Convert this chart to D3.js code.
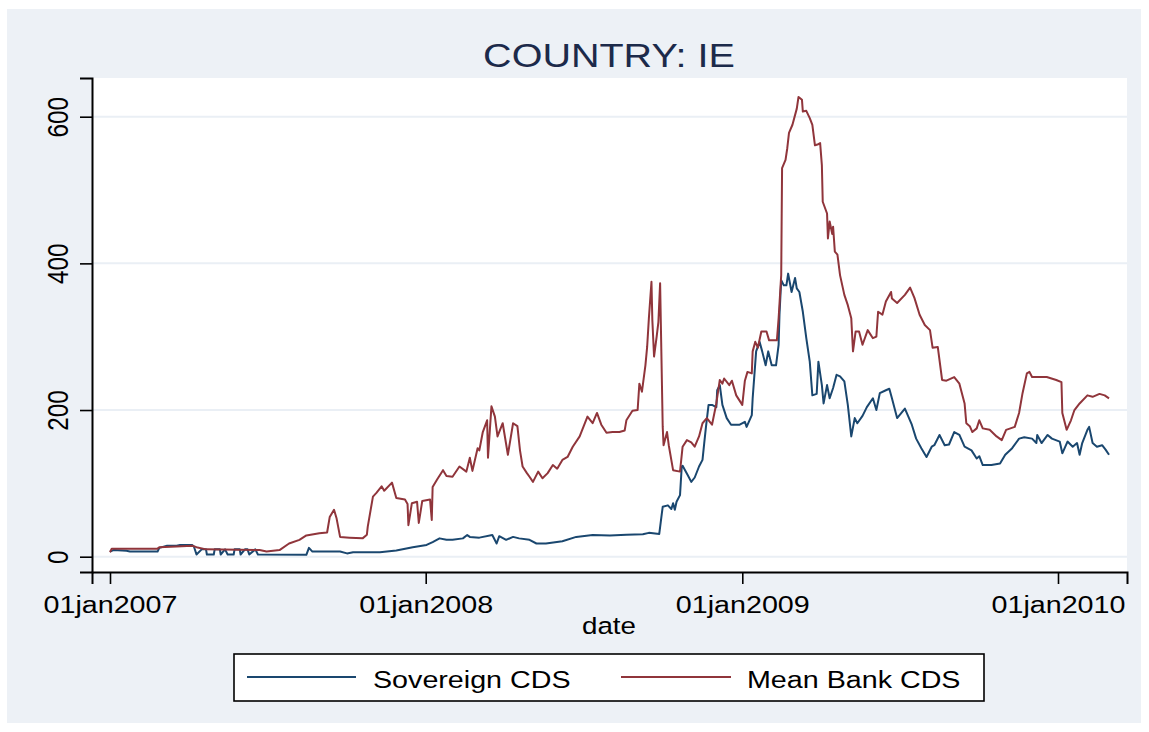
<!DOCTYPE html>
<html>
<head>
<meta charset="utf-8">
<script src="https://cdn.jsdelivr.net/npm/d3@7"></script>
<style>
  html, body { margin: 0; padding: 0; background: #ffffff; }
  svg { display: block; }
</style>
</head>
<body>
<div id="chart"></div>
<script>
// ---------------- DATA ----------------
const title = "COUNTRY: IE";
const xAxisTitle = "date";
const seriesNames = ["Sovereign CDS", "Mean Bank CDS"];
const xTickDates = ["2007-01-01", "2008-01-01", "2009-01-01", "2010-01-01"];
const xTickLabels = ["01jan2007", "01jan2008", "01jan2009", "01jan2010"];
const yTicks = [0, 200, 400, 600];

const sovDates = [
  "2007-01-01","2007-01-05","2007-01-20","2007-01-24","2007-02-25","2007-02-27","2007-03-08","2007-03-19","2007-03-23","2007-04-06",
  "2007-04-08","2007-04-11","2007-04-17","2007-04-22","2007-04-23","2007-05-01","2007-05-02","2007-05-08","2007-05-09","2007-05-14",
  "2007-05-17","2007-05-24","2007-05-25","2007-05-31","2007-06-01","2007-06-06","2007-06-09","2007-06-11","2007-06-18","2007-06-21",
  "2007-08-16","2007-08-19","2007-08-23","2007-09-24","2007-10-02","2007-10-09","2007-11-09","2007-11-28","2007-12-17","2008-01-02",
  "2008-01-09","2008-01-17","2008-01-25","2008-02-01","2008-02-13","2008-02-18","2008-02-21","2008-03-03","2008-03-18","2008-03-23",
  "2008-03-26","2008-04-03","2008-04-11","2008-04-18","2008-04-30","2008-05-08","2008-05-19","2008-06-07","2008-06-23","2008-07-12",
  "2008-08-01","2008-08-20","2008-09-08","2008-09-15","2008-09-27","2008-09-30","2008-10-01","2008-10-07","2008-10-11","2008-10-13",
  "2008-10-15","2008-10-17","2008-10-21","2008-10-23","2008-10-24","2008-10-30","2008-11-03","2008-11-07","2008-11-12","2008-11-16",
  "2008-11-18","2008-11-20","2008-11-23","2008-11-27","2008-12-02","2008-12-03","2008-12-06","2008-12-09","2008-12-14","2008-12-19",
  "2008-12-29","2009-01-04","2009-01-06","2009-01-12","2009-01-13","2009-01-15","2009-01-17","2009-01-21","2009-01-24","2009-01-28",
  "2009-01-31","2009-02-04","2009-02-09","2009-02-12","2009-02-13","2009-02-15","2009-02-18","2009-02-21","2009-02-23","2009-02-27",
  "2009-03-03","2009-03-05","2009-03-08","2009-03-12","2009-03-16","2009-03-20","2009-03-23","2009-03-28","2009-03-30","2009-04-03",
  "2009-04-05","2009-04-09","2009-04-12","2009-04-16","2009-04-20","2009-04-24","2009-04-29","2009-05-03","2009-05-07","2009-05-11",
  "2009-05-14","2009-05-20","2009-05-25","2009-06-01","2009-06-05","2009-06-09","2009-06-16","2009-06-20","2009-06-23","2009-06-29",
  "2009-07-08","2009-07-16","2009-07-21","2009-07-27","2009-08-02","2009-08-08","2009-08-11","2009-08-17","2009-08-23","2009-08-28",
  "2009-09-03","2009-09-09","2009-09-15","2009-09-23","2009-09-29","2009-10-02","2009-10-06","2009-10-16","2009-10-26","2009-11-01",
  "2009-11-09","2009-11-17","2009-11-23","2009-12-02","2009-12-07","2009-12-08","2009-12-13","2009-12-20","2009-12-25","2010-01-03",
  "2010-01-06","2010-01-12","2010-01-18","2010-01-23","2010-01-26","2010-01-29","2010-02-04","2010-02-06","2010-02-10","2010-02-15",
  "2010-02-21","2010-02-25","2010-03-01"
];
const sovValues = [
  7, 9, 8, 7, 7, 12, 15, 15, 16, 16,
  14, 3, 10, 10, 3, 3, 10, 10, 3, 10,
  3, 3, 10, 10, 3, 10, 10, 3, 10, 3,
  2.5, 12, 7, 7, 4.5, 6, 6, 8.5, 13, 16,
  20, 25, 23, 23, 25, 29.5, 27, 26, 29.5, 18,
  28, 23, 27, 25, 23, 18, 18, 21, 27, 29.5,
  29, 30, 30.5, 32.5, 31, 59, 68, 70, 65, 73,
  64, 75, 84, 123, 124, 111, 102, 108, 123, 132,
  155, 177, 207, 207, 204, 227, 234, 207, 189, 180,
  180, 184, 177, 193, 216, 248, 280, 293, 280, 261,
  280, 261, 261, 289, 330, 377, 370, 370, 386, 361,
  380, 366, 361, 334, 298, 266, 220, 222, 266, 234,
  209, 234, 216, 230, 248, 246, 239, 207, 164, 189,
  182, 192, 204, 216, 200, 223, 227, 229, 216, 189,
  202, 180, 161, 148, 136, 150, 152, 166, 152, 153,
  170, 166, 150, 145, 134, 137, 125, 125, 127, 139,
  148, 161, 163, 161, 155, 166, 155, 166, 161, 157,
  141, 157, 150, 155, 139, 155, 173, 177, 155, 150,
  152, 146, 139
];

const bankDates = [
  "2007-01-01","2007-01-03","2007-02-25","2007-02-27","2007-03-19","2007-04-06","2007-04-11","2007-04-22","2007-06-23","2007-07-01",
  "2007-07-16","2007-07-27","2007-08-08","2007-08-16","2007-08-31","2007-09-09","2007-09-12","2007-09-17","2007-09-20","2007-09-24",
  "2007-10-05","2007-10-20","2007-10-25","2007-10-26","2007-11-01","2007-11-05","2007-11-11","2007-11-14","2007-11-23","2007-11-28",
  "2007-12-08","2007-12-11","2007-12-12","2007-12-16","2007-12-22","2007-12-24","2007-12-28","2008-01-06","2008-01-08","2008-01-09",
  "2008-01-14","2008-01-21","2008-01-25","2008-02-01","2008-02-09","2008-02-17","2008-02-21","2008-02-24","2008-03-01","2008-03-03",
  "2008-03-07","2008-03-12","2008-03-13","2008-03-17","2008-03-21","2008-03-24","2008-03-30","2008-04-05","2008-04-11","2008-04-16",
  "2008-04-19","2008-04-22","2008-04-27","2008-04-30","2008-05-04","2008-05-10","2008-05-15","2008-05-21","2008-05-27","2008-06-01",
  "2008-06-07","2008-06-13","2008-06-19","2008-06-27","2008-07-06","2008-07-12","2008-07-17","2008-07-22","2008-07-28","2008-08-04",
  "2008-08-12","2008-08-18","2008-08-20","2008-08-27","2008-09-02","2008-09-04","2008-09-07","2008-09-11","2008-09-13","2008-09-15",
  "2008-09-18","2008-09-19","2008-09-21","2008-09-24","2008-09-26","2008-09-28","2008-10-01","2008-10-02","2008-10-06","2008-10-08",
  "2008-10-13","2008-10-21","2008-10-24","2008-10-29","2008-11-03","2008-11-07","2008-11-12","2008-11-16","2008-11-21","2008-11-27",
  "2008-12-02","2008-12-06","2008-12-09","2008-12-11","2008-12-17","2008-12-20","2008-12-25","2009-01-01","2009-01-04","2009-01-07",
  "2009-01-12","2009-01-13","2009-01-16","2009-01-19","2009-01-23","2009-01-29","2009-02-01","2009-02-10","2009-02-12","2009-02-15",
  "2009-02-16","2009-02-20","2009-02-22","2009-02-24","2009-02-28","2009-03-05","2009-03-07","2009-03-11","2009-03-12","2009-03-16",
  "2009-03-20","2009-03-23","2009-03-26","2009-03-29","2009-04-01","2009-04-03","2009-04-04","2009-04-09","2009-04-10","2009-04-12",
  "2009-04-15","2009-04-16","2009-04-18","2009-04-21","2009-04-24","2009-04-29","2009-05-03","2009-05-07","2009-05-09","2009-05-12",
  "2009-05-16","2009-05-20","2009-05-26","2009-06-01","2009-06-05","2009-06-07","2009-06-12","2009-06-16","2009-06-22","2009-06-23",
  "2009-06-29","2009-07-08","2009-07-14","2009-07-19","2009-07-25","2009-07-31","2009-08-06","2009-08-09","2009-08-15","2009-08-20",
  "2009-08-25","2009-09-03","2009-09-09","2009-09-15","2009-09-17","2009-09-21","2009-09-24","2009-09-29","2009-10-02","2009-10-06",
  "2009-10-14","2009-10-22","2009-10-28","2009-11-02","2009-11-12","2009-11-17","2009-11-21","2009-11-26","2009-11-29","2009-12-02",
  "2009-12-19","2009-12-30","2010-01-05","2010-01-06","2010-01-11","2010-01-16","2010-01-20","2010-01-26","2010-02-04","2010-02-10",
  "2010-02-18","2010-02-24","2010-03-01"
];
const bankValues = [
  6, 11, 11, 13, 14, 15, 13, 10, 9, 7,
  9, 18, 23, 29, 32, 33, 54, 64, 52, 27,
  26, 25, 30, 41, 82, 87, 96, 90, 101, 80,
  78, 72, 43, 73, 75, 46, 76, 78, 50, 95,
  105, 118, 110, 109, 123, 116, 135, 117, 148, 145,
  170, 186, 135, 205, 191, 164, 182, 139, 182, 178,
  145, 123, 114, 109, 102, 116, 107, 114, 125, 120,
  132, 136, 150, 164, 191, 182, 196, 180, 169, 170,
  170, 172, 186, 199, 200, 236, 225, 261, 286, 325,
  375, 323, 273, 300, 320, 373, 177, 152, 170, 152,
  118, 116, 150, 159, 156, 150, 164, 182, 189, 180,
  209, 241, 236, 243, 234, 240, 220, 207, 240, 252,
  250, 280, 293, 285, 307, 307, 295, 295, 325, 384,
  530, 541, 557, 578, 589, 611, 627, 623, 607, 608,
  598, 589, 561, 562, 564, 534, 484, 468, 434, 457,
  440, 450, 416, 412, 384, 357, 343, 325, 280, 307,
  307, 289, 309, 298, 300, 334, 330, 348, 361, 352,
  346, 357, 367, 353, 330, 316, 309, 285, 286, 241,
  240, 245, 236, 209, 182, 178, 170, 175, 186, 175,
  173, 164, 159, 173, 177, 196, 223, 250, 252, 245,
  245, 241, 238, 196, 173, 186, 200, 209, 220, 218,
  222, 220, 216
];

// ---------------- LAYOUT ----------------
const W = 1149, H = 732;
const FONT = "'Liberation Sans', Arial, Helvetica, sans-serif";
const SX = 1.18; // horizontal glyph stretch of the reference
const colors = ["#1a476f", "#90353b"];
const plot = { left: 92, right: 1127, top: 78, bottom: 572 };

const parse = d3.utcParse("%Y-%m-%d");
const svg = d3.select("#chart").append("svg").attr("width", W).attr("height", H);

// outer background
svg.append("rect").attr("x", 7).attr("y", 9).attr("width", 1134).attr("height", 714).attr("fill", "#edf1f6");
// plot region
svg.append("rect").attr("x", plot.left).attr("y", plot.top)
  .attr("width", plot.right - plot.left).attr("height", plot.bottom - plot.top).attr("fill", "#ffffff");

// scales: anchor known tick positions, then extend to plot edges
const x0 = d3.scaleUtc().domain([parse("2007-01-01"), parse("2010-01-01")]).range([110, 1058]);
const x = d3.scaleUtc().domain([x0.invert(plot.left), x0.invert(plot.right)]).range([plot.left, plot.right]);
const y0 = d3.scaleLinear().domain([0, 600]).range([556.7, 116.7]);
const y = d3.scaleLinear().domain([y0.invert(plot.bottom), y0.invert(plot.top)]).range([plot.bottom, plot.top]);

// gridlines
svg.append("g").selectAll("line").data(yTicks).join("line")
  .attr("x1", plot.left).attr("x2", plot.right)
  .attr("y1", d => y(d)).attr("y2", d => y(d))
  .attr("stroke", "#eaeff5").attr("stroke-width", 2);

// series
const series = [
  { name: seriesNames[0], dates: sovDates, values: sovValues, color: colors[0] },
  { name: seriesNames[1], dates: bankDates, values: bankValues, color: colors[1] }
];
const line = d3.line().x(d => x(d[0])).y(d => y(d[1]));
series.forEach(s => {
  const pts = s.dates.map((d, i) => [parse(d), s.values[i]]);
  svg.append("path").datum(pts).attr("d", line)
    .attr("fill", "none").attr("stroke", s.color).attr("stroke-width", 2).attr("stroke-linejoin", "round");
});

// y axis
const yAxis = d3.axisLeft(y).tickValues(yTicks).tickSize(12).tickFormat(d3.format("d"));
const gy = svg.append("g").attr("transform", `translate(${plot.left},0)`).call(yAxis);
gy.select(".domain").attr("stroke", "#000").attr("stroke-width", 2);
gy.selectAll(".tick line").attr("stroke", "#000").attr("stroke-width", 1.6);
gy.selectAll(".tick text")
  .attr("x", null).attr("dy", null)
  .attr("transform", `translate(-24,0) scale(${SX},1) rotate(-90)`)
  .attr("text-anchor", "middle")
  .attr("font-family", FONT).attr("font-size", 24.3).attr("fill", "#000");

// x axis
const xAxis = d3.axisBottom(x).tickValues(xTickDates.map(parse)).tickSize(12)
  .tickFormat((d, i) => xTickLabels[i]);
const gx = svg.append("g").attr("transform", `translate(0,${plot.bottom})`).call(xAxis);
gx.select(".domain").attr("stroke", "#000").attr("stroke-width", 2);
gx.selectAll(".tick line").attr("stroke", "#000").attr("stroke-width", 1.6);
gx.selectAll(".tick text")
  .attr("y", null).attr("dy", null)
  .attr("transform", `translate(0,41) scale(${SX},1)`)
  .attr("text-anchor", "middle")
  .attr("font-family", FONT).attr("font-size", 24.3).attr("fill", "#000");

function label(txt, cx, cy, size, anchor, fill) {
  svg.append("text").text(txt)
    .attr("transform", `translate(${cx},${cy}) scale(${SX},1)`)
    .attr("text-anchor", anchor).attr("font-family", FONT)
    .attr("font-size", size).attr("fill", fill);
}

// title & axis title
label(title, 609, 66.5, 33.5, "middle", "#1c2a4a");
label(xAxisTitle, 609, 634, 23.5, "middle", "#000");

// legend
svg.append("rect").attr("x", 234).attr("y", 654).attr("width", 750).attr("height", 47)
  .attr("fill", "#fff").attr("stroke", "#000").attr("stroke-width", 1.6);
const legendItems = [
  { x1: 247, x2: 356, tx: 373 },
  { x1: 621, x2: 731, tx: 747 }
];
series.forEach((s, i) => {
  const it = legendItems[i];
  svg.append("line").attr("x1", it.x1).attr("x2", it.x2).attr("y1", 677).attr("y2", 677)
    .attr("stroke", s.color).attr("stroke-width", 2);
  label(s.name, it.tx, 688, 24.3, "start", "#000");
});
</script>
</body>
</html>
